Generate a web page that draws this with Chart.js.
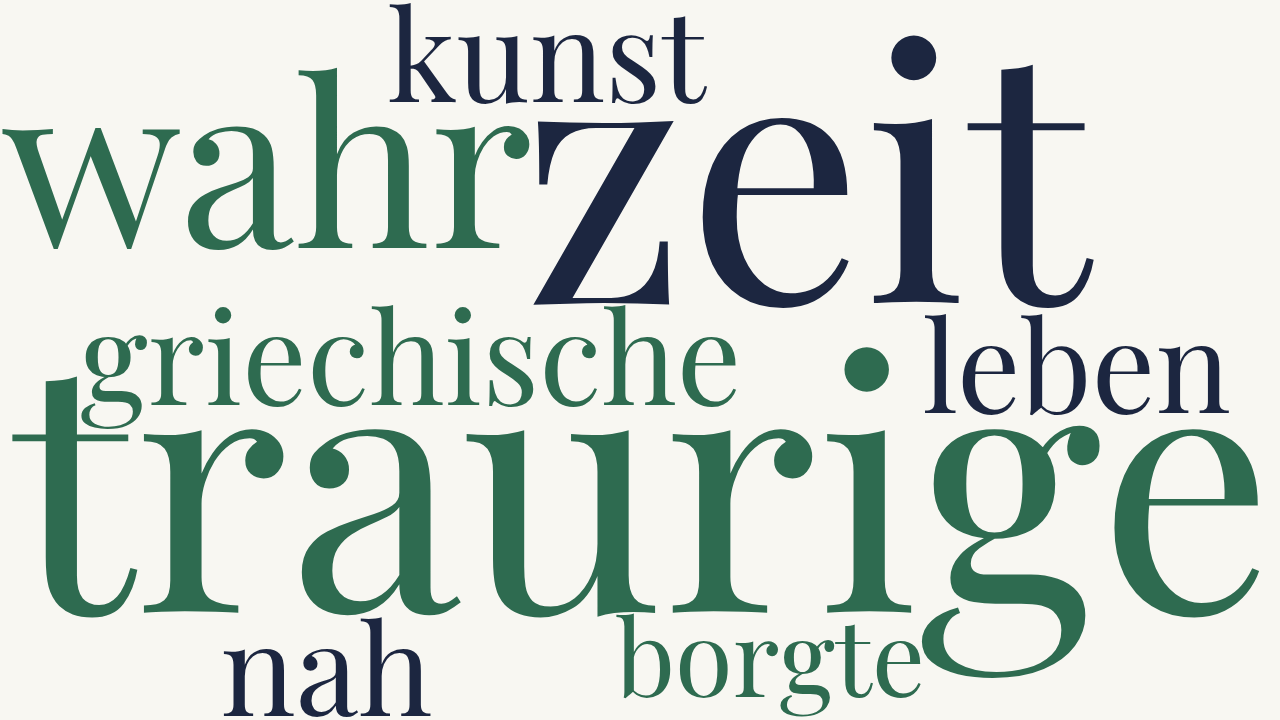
<!DOCTYPE html>
<html>
<head>
<meta charset="utf-8">
<title>Wortwolke</title>
<script src="https://cdn.jsdelivr.net/npm/chart.js@4.4.1/dist/chart.umd.min.js"></script>
<style>
  html, body { margin: 0; padding: 0; background: #f8f7f2; }
  #wrap { width: 1280px; height: 720px; }
</style>
</head>
<body>
<div id="wrap"><canvas id="cloud" width="1280" height="720"></canvas></div>
<script>
// word list and weights
const words   = ['traurige', 'zeit', 'wahr', 'kunst', 'griechische', 'leben', 'nah', 'borgte'];
const weights = [99, 100, 66, 36, 36.5, 36, 36, 30];
// placement on a 0-100 grid (x = word centre, y = baseline)
const posX = [50.2, 62.9, 20.9, 42.7, 32.1, 84.1, 25.5, 60.2];
const posY = [85.1, 42.1, 34.4, 14.2, 56.3, 57.4, 99.4, 96.8];
const groups = [0, 1, 0, 1, 0, 1, 1, 0];

const PALETTE = ['#2e6b50', '#1c2640'];
const PX_PER_WEIGHT = 3.5;

/**
 * Draws each word at its point position, sized by weight
 */
const wordPlugin = {
  id: 'wordLabels',
  afterDatasetsDraw(chart) {
    const ctx = chart.ctx;
    const meta = chart.getDatasetMeta(0);
    ctx.save();
    ctx.textAlign = 'center';
    ctx.textBaseline = 'alphabetic';
    meta.data.forEach((pt, i) => {
      const size = Math.round(weights[i] * PX_PER_WEIGHT);
      ctx.font = size + 'px "Playfair Display", "Liberation Serif", serif';
      ctx.fillStyle = PALETTE[groups[i]];
      ctx.fillText(words[i], pt.x, pt.y);
    });
    ctx.restore();
  }
};

new Chart(document.getElementById('cloud').getContext('2d'), {
  type: 'scatter',
  data: {
    labels: words,
    datasets: [{
      data: words.map((w, i) => ({ x: posX[i], y: posY[i] })),
      pointRadius: 0,
      pointHoverRadius: 0
    }]
  },
  options: {
    responsive: false,
    animation: false,
    layout: { padding: 0 },
    scales: {
      x: { display: false, min: 0, max: 100 },
      y: { display: false, min: 0, max: 100, reverse: true }
    },
    plugins: {
      legend: { display: false },
      tooltip: { enabled: false }
    }
  },
  plugins: [wordPlugin]
});
</script>
</body>
</html>
